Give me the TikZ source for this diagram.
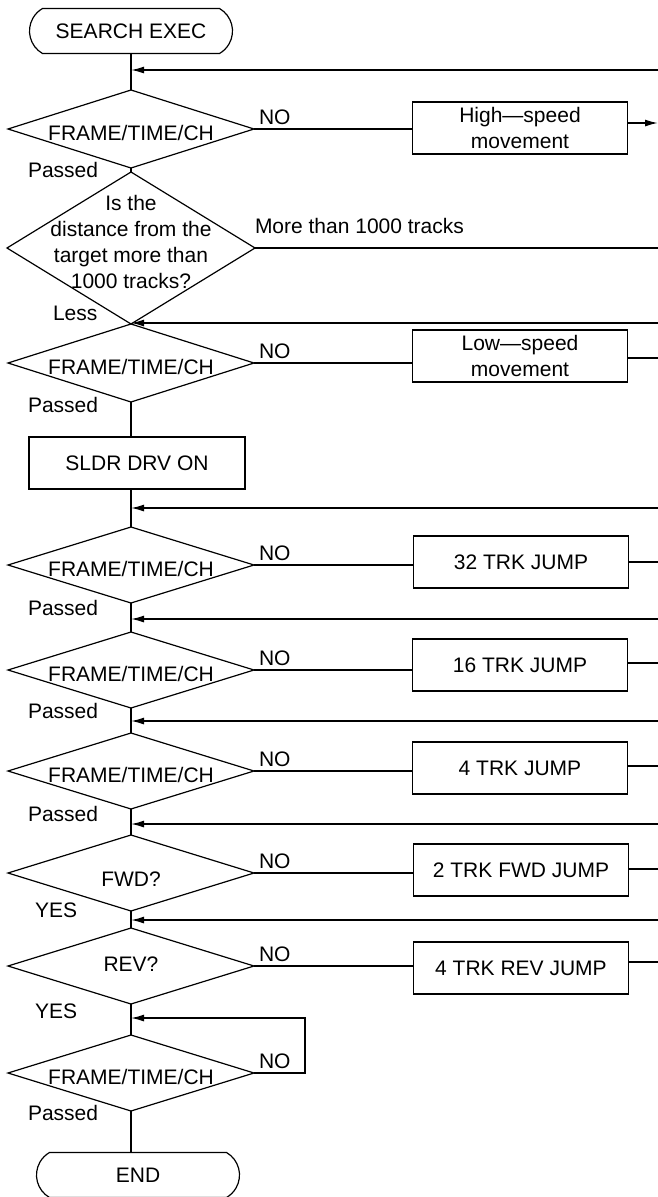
\documentclass[tikz,border=0pt]{standalone}
\usepackage{fontspec}
\setmainfont{Liberation Sans}
\usetikzlibrary{shapes.geometric,shapes.misc,arrows.meta}
\begin{document}
\begin{tikzpicture}[x=1pt,y=-1pt,
  every node/.style={font=\fontsize{21}{26}\selectfont},
  dia/.style={diamond, draw, line width=1.2pt, inner sep=0pt, outer sep=0pt, minimum width=246pt, minimum height=76pt},
  term/.style={rounded rectangle, rounded rectangle arc length=120, draw, line width=1.2pt, minimum width=203pt, minimum height=45pt, inner sep=0pt, outer sep=0pt},
  box/.style={rectangle, draw, line width=1.2pt, minimum width=215pt, minimum height=52pt, inner sep=0pt, outer sep=0pt, align=center},
  lbl/.style={inner sep=0pt, outer sep=0pt},
  ln/.style={line width=1.5pt},
  arr/.style={line width=1.5pt, -{Latex[length=13pt,width=7pt]}},
]
\useasboundingbox (0,0) rectangle (658,1197);

% main column
\node[term] (se) at (131,31) {SEARCH EXEC};
\node[dia, minimum height=78pt, label={[lbl,yshift=-4pt]center:FRAME/TIME/CH}] (d1) at (131,129) {};
\node[dia, minimum width=248pt, minimum height=152pt, label={[lbl,align=center,yshift=6pt]center:Is the\\distance from the\\target more than\\1000 tracks?}] (d2) at (131,248) {};
\node[dia, minimum height=78pt, label={[lbl,yshift=-4pt]center:FRAME/TIME/CH}] (d3) at (131,363) {};
\node[box, minimum width=216pt] (sl) at (137,463) {SLDR DRV ON};
\node[dia, label={[lbl,yshift=-4pt]center:FRAME/TIME/CH}] (d4) at (131,565) {};
\node[dia, label={[lbl,yshift=-4pt]center:FRAME/TIME/CH}] (d5) at (131,670) {};
\node[dia, label={[lbl,yshift=-4pt]center:FRAME/TIME/CH}] (d6) at (131,771) {};
\node[dia, label={[lbl,yshift=-6pt]center:FWD?}] (d7) at (131,873) {};
\node[dia, label={[lbl,yshift=2pt]center:REV?}] (d8) at (131,966) {};
\node[dia, label={[lbl,yshift=-4pt]center:FRAME/TIME/CH}] (d9) at (131,1073) {};
\node[term] (en) at (138,1175) {END};

% right column
\node[box] (hs) at (520,128) {High—speed\\movement};
\node[box] (ls) at (520,356) {Low—speed\\movement};
\node[box] (j32) at (521,562) {32 TRK JUMP};
\node[box] (j16) at (520,665) {16 TRK JUMP};
\node[box] (j4) at (520,768) {4 TRK JUMP};
\node[box] (jf) at (521,870) {2 TRK FWD JUMP};
\node[box] (jr) at (521,968) {4 TRK REV JUMP};

% free ends at the right edge
\coordinate (r0) at (658,70);
\coordinate (r1) at (658,123);
\coordinate (r2) at (658,248);
\coordinate (r3) at (658,323);
\coordinate (r4) at (658,358);
\coordinate (r5) at (658,508);
\coordinate (r6) at (658,562);
\coordinate (r7) at (658,619);
\coordinate (r8) at (658,663);
\coordinate (r9) at (658,721);
\coordinate (r10) at (658,766);
\coordinate (r11) at (658,824);
\coordinate (r12) at (658,869);
\coordinate (r13) at (658,920);
\coordinate (r14) at (658,962);
\coordinate (lp) at (305,1018);

% main line
\draw[ln] (se.south -| d1.north) -- (d1.north);
\draw[ln] (d1.south) -- (d2.north);
\draw[ln] (d3.south) -- (d3.south |- sl.north);
\draw[ln] (d3.south |- sl.south) -- (d4.north);
\draw[ln] (d4.south) -- (d5.north);
\draw[ln] (d5.south) -- (d6.north);
\draw[ln] (d6.south) -- (d7.north);
\draw[ln] (d7.south) -- (d8.north);
\draw[ln] (d8.south) -- (d9.north);
\draw[ln] (d9.south) -- (d9.south |- en.north);

% incoming arrows
\draw[arr] (r0) -- (r0 -| d1.north);
\draw[arr] (r3) -- (r3 -| d3.north);
\draw[arr] (r5) -- (r5 -| d4.north);
\draw[arr] (r7) -- (r7 -| d5.north);
\draw[arr] (r9) -- (r9 -| d6.north);
\draw[arr] (r11) -- (r11 -| d7.north);
\draw[arr] (r13) -- (r13 -| d8.north);
\draw[arr] (d9.east) -| (lp) -- (lp -| d9.north);

% NO branches
\draw[ln] (d1.east) -- (d1.east -| hs.west);
\draw[ln] (d2.east) -- (r2);
\draw[ln] (d3.east) -- (d3.east -| ls.west);
\draw[ln] (d4.east) -- (d4.east -| j32.west);
\draw[ln] (d5.east) -- (d5.east -| j16.west);
\draw[ln] (d6.east) -- (d6.east -| j4.west);
\draw[ln] (d7.east) -- (d7.east -| jf.west);
\draw[ln] (d8.east) -- (d8.east -| jr.west);

% box exits
\draw[arr] (hs.east |- r1) -- (r1);
\draw[ln] (ls.east |- r4) -- (r4);
\draw[ln] (j32.east |- r6) -- (r6);
\draw[ln] (j16.east |- r8) -- (r8);
\draw[ln] (j4.east |- r10) -- (r10);
\draw[ln] (jf.east |- r12) -- (r12);
\draw[ln] (jr.east |- r14) -- (r14);

% labels
\foreach \d in {d1,d3,d4,d5,d6,d7,d8,d9}
  \node[lbl, anchor=base west] at ([xshift=5pt,yshift=5pt]\d.east) {NO};
\node[lbl, anchor=base west] (m1) at (255,233) {More than 1000 tracks};
\node[lbl, anchor=base west] (p1) at (28,177) {Passed};
\node[lbl, anchor=base west] (le) at (53,320) {Less};
\node[lbl, anchor=base west] (p3) at (28,412) {Passed};
\node[lbl, anchor=base west] (p4) at (28,615) {Passed};
\node[lbl, anchor=base west] (p5) at (28,718) {Passed};
\node[lbl, anchor=base west] (p6) at (28,821) {Passed};
\node[lbl, anchor=base west] (y7) at (35,917) {YES};
\node[lbl, anchor=base west] (y8) at (35,1018) {YES};
\node[lbl, anchor=base west] (p9) at (28,1120) {Passed};
\end{tikzpicture}
\end{document}
